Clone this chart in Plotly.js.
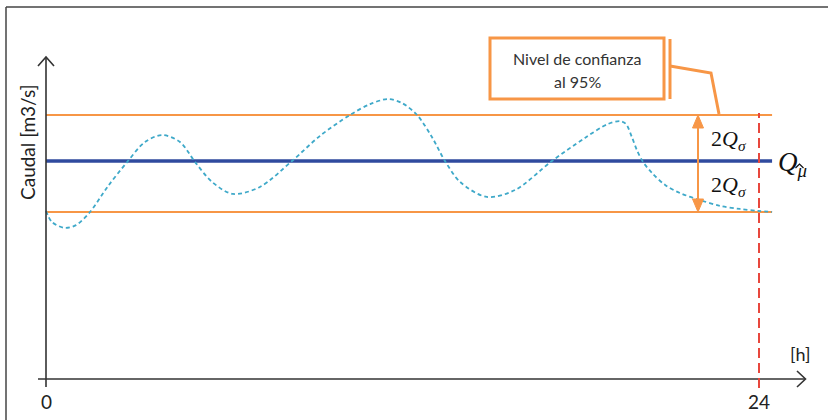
<!DOCTYPE html>
<html>
<head>
<meta charset="utf-8">
<script src="https://cdn.plot.ly/plotly-3.0.1.min.js"></script>
<style>html,body{margin:0;padding:0;background:#fff;}#chart{width:828px;height:420px;}</style>
</head>
<body>
<div id="chart"></div>
<script>
// ---- data ----
const hours = [0,0.2,0.64,1.01,1.48,2.09,2.73,3.33,3.90,4.51,
  5.02,5.59,6.29,7.20,8.28,9.22,10.23,10.91,11.51,11.98,
  12.49,12.99,13.43,13.94,14.84,15.79,17.03,18.14,18.92,19.32,
  19.52,19.72,19.89,20.10,20.40,20.84,21.34,22.01,22.69,23.36,
  23.97,24.44];
const caudal = [7.71,7.20,6.93,7.06,7.66,8.85,9.95,10.87,11.19,10.87,
  9.95,9.04,8.49,8.81,10.0,11.15,12.11,12.61,12.84,12.66,
  12.11,11.10,10.0,9.04,8.35,8.67,10.0,11.06,11.70,11.83,
  11.70,11.10,10.50,9.95,9.45,8.90,8.53,8.21,7.94,7.80,
  7.71,7.66];
const levelX = [0, 24.44];
const meanQ = 10.0;
const upperQ = 12.11;
const lowerQ = 7.66;
const endHour = 24;
const tickVals = [0, 24];
const tickText = ['0', '24'];

// ---- pixel <-> data helpers (layout only) ----
const PXH = 713/24, PXY = 21.8, X0 = 46, Y0 = 379;
const X = px => (px - X0)/PXH;
const Y = py => (Y0 - py)/PXY;

const orange = '#f79646', blue = '#2f4a9e', teal = '#3fa9c9', red = '#e8473d', dark = '#333333';
const sans = 'Lato, Open Sans, sans-serif';

const traces = [
  {x: levelX, y: [upperQ, upperQ], mode:'lines', line:{color:orange, width:2}, hoverinfo:'skip'},
  {x: levelX, y: [lowerQ, lowerQ], mode:'lines', line:{color:orange, width:2}, hoverinfo:'skip'},
  {x: levelX, y: [meanQ, meanQ], mode:'lines', line:{color:blue, width:3.5}, hoverinfo:'skip'},
  {x: hours, y: caudal, mode:'lines', line:{color:teal, width:1.8, dash:'4px,3px', shape:'spline', smoothing:0.9}, hoverinfo:'skip'}
];

const shapes = [
  // frame (top + left)
  {type:'line', xref:'paper', yref:'paper', x0:6/828, x1:1, y0:1-7/420, y1:1-7/420, line:{color:'#444', width:1.5}},
  {type:'line', xref:'paper', yref:'paper', x0:6/828, x1:6/828, y0:1-7/420, y1:0, line:{color:'#444', width:1.5}},
  // axes
  {type:'line', x0:X(38), x1:X(805), y0:0, y1:0, line:{color:dark, width:1.6}},
  {type:'path', path:`M ${X(797)} ${Y(371)} L ${X(805.5)} ${Y(379)} L ${X(797)} ${Y(387)}`, line:{color:dark, width:1.6}},
  {type:'line', x0:0, x1:0, y0:Y(387), y1:Y(57), line:{color:dark, width:1.6}},
  {type:'path', path:`M ${X(38)} ${Y(66)} L ${X(46)} ${Y(57)} L ${X(54)} ${Y(66)}`, line:{color:dark, width:1.6}},
  // red dashed end line
  {type:'line', x0:endHour, x1:endHour, y0:Y(388), y1:Y(113), line:{color:red, width:2, dash:'10px,5px'}},
  // double arrow
  {type:'line', x0:X(698), x1:X(698), y0:Y(126), y1:Y(201), line:{color:orange, width:2}},
  {type:'path', path:`M ${X(698)} ${Y(115)} L ${X(692.5)} ${Y(128)} L ${X(703.5)} ${Y(128)} Z`, fillcolor:orange, line:{color:orange, width:1}},
  {type:'path', path:`M ${X(698)} ${Y(212)} L ${X(692.5)} ${Y(199)} L ${X(703.5)} ${Y(199)} Z`, fillcolor:orange, line:{color:orange, width:1}},
  // callout box
  {type:'rect', x0:X(490), x1:X(664), y0:Y(38), y1:Y(99), fillcolor:'#fff', line:{color:orange, width:3}},
  {type:'line', x0:X(670), x1:X(670), y0:Y(39), y1:Y(99), line:{color:orange, width:3}},
  {type:'path', path:`M ${X(670)} ${Y(66)} L ${X(711)} ${Y(73)} L ${X(719)} ${Y(114)}`, line:{color:orange, width:3}},
  // hat over mu
  {type:'path', path:`M ${X(795.5)} ${Y(168)} L ${X(799.5)} ${Y(164)} L ${X(803.5)} ${Y(168)}`, line:{color:'#111', width:1.2}}
];

const mathFont = {family:'Liberation Serif, DejaVu Serif, serif', color:'#111'};
const annotations = [
  {x:X(577), y:Y(58), text:'Nivel de confianza', showarrow:false, font:{family:sans, size:16, color:dark}},
  {x:X(577), y:Y(81), text:'al 95%', showarrow:false, font:{family:sans, size:16, color:dark}},
  {x:X(729), y:Y(140), text:'2<i>Q</i><sub><i>σ</i></sub>', showarrow:false, font:Object.assign({size:22}, mathFont)},
  {x:X(729), y:Y(186), text:'2<i>Q</i><sub><i>σ</i></sub>', showarrow:false, font:Object.assign({size:22}, mathFont)},
  {x:X(776), y:Y(164), xanchor:'left', text:'<i>Q</i><sub><i>μ</i></sub>', showarrow:false, font:Object.assign({size:27}, mathFont)},
  {x:X(27), y:Y(143), text:'Caudal [m3/s]', textangle:-90, showarrow:false, font:{family:sans, size:19, color:'#222'}},
  {x:X(800), y:Y(354), text:'[h]', showarrow:false, font:{family:sans, size:18, color:'#222'}}
];
tickVals.forEach((v,i) => annotations.push({x:v, y:Y(401), text:tickText[i], showarrow:false, font:{family:sans, size:19, color:'#222'}}));

const layout = {
  width:828, height:420,
  margin:{l:0, r:0, t:0, b:0},
  paper_bgcolor:'#fff', plot_bgcolor:'#fff',
  showlegend:false,
  xaxis:{range:[X(0), X(828)], visible:false, fixedrange:true},
  yaxis:{range:[Y(420), Y(0)], visible:false, fixedrange:true},
  shapes, annotations
};
Plotly.newPlot('chart', traces, layout, {displayModeBar:false, staticPlot:true});
</script>
</body>
</html>
